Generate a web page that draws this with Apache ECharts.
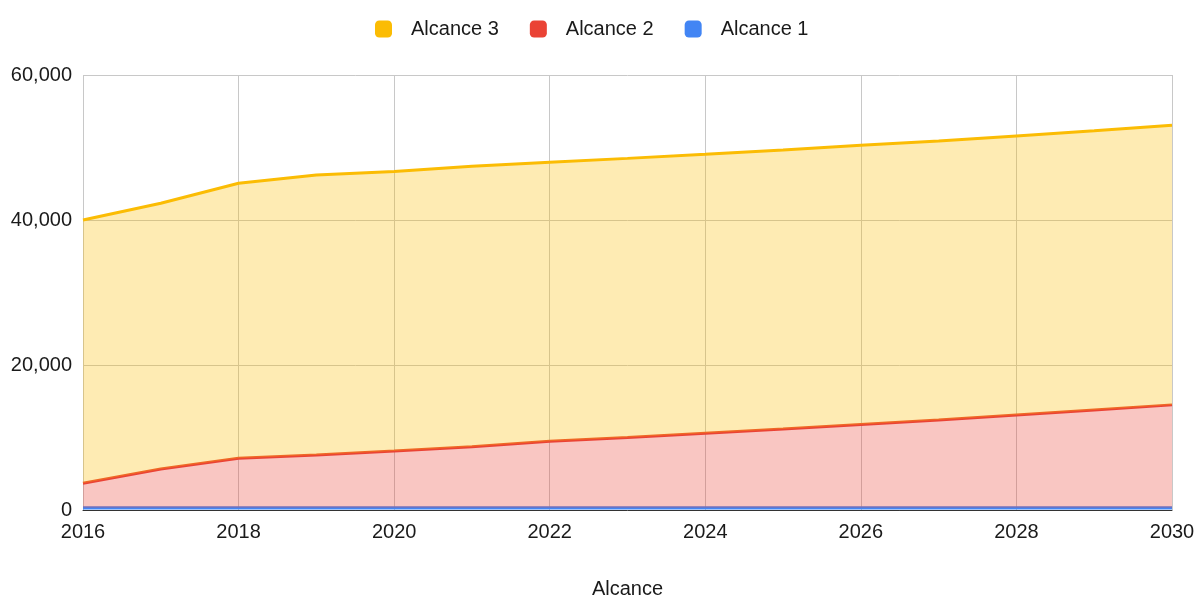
<!DOCTYPE html>
<html>
<head>
<meta charset="utf-8">
<script src="https://cdn.jsdelivr.net/npm/echarts@6/dist/echarts.min.js"></script>
<style>
  html, body { margin: 0; padding: 0; background: #fff; overflow: hidden; }
  #chart { width: 1195px; height: 596px; }
</style>
</head>
<body>
<div id="chart"></div>
<script>
// Years on the horizontal axis
const years = ['2016','2017','2018','2019','2020','2021','2022','2023','2024','2025','2026','2027','2028','2029','2030'];

// Emissions per scope (stacked)
const alcance1 = [300,300,300,300,300,300,300,300,300,300,300,300,300,300,300];
const alcance2 = [3380,5360,6830,7290,7840,8430,9170,9700,10280,10870,11490,12100,12800,13500,14200];
const alcance3 = [36320,36640,37930,38610,38560,38670,38480,38500,38480,38490,38510,38500,38500,38500,38560];

const seriesNames = ['Alcance 1', 'Alcance 2', 'Alcance 3'];
const seriesData = [alcance1, alcance2, alcance3];
const seriesColors = ['#4285f4', '#ea4335', '#fbbc04'];

const font = 'Liberation Sans, Arial, sans-serif';
const textColor = '#1a1a1a';

const chart = echarts.init(document.getElementById('chart'), null, { renderer: 'canvas' });

chart.setOption({
  animation: false,
  backgroundColor: '#ffffff',
  legend: {
    data: ['Alcance 3', 'Alcance 2', 'Alcance 1'],
    top: 14,
    left: 370,
    icon: 'roundRect',
    itemWidth: 17,
    itemHeight: 17,
    itemGap: 31,
    textStyle: { fontFamily: font, fontSize: 20, color: textColor, padding: [0, 0, 0, 14] }
  },
  grid: { left: 83, right: 23, top: 75, bottom: 86, containLabel: false, outerBoundsMode: 'none' },
  xAxis: {
    type: 'category',
    data: years,
    boundaryGap: false,
    name: 'Alcance',
    nameLocation: 'middle',
    nameGap: 69,
    nameTextStyle: { fontFamily: font, fontSize: 20, color: textColor },
    axisLine: { show: true, lineStyle: { color: '#333', width: 1 } },
    axisTick: { show: false },
    axisLabel: { interval: 1, margin: 12, fontFamily: font, fontSize: 20, color: textColor },
    splitLine: { show: true, interval: 1, lineStyle: { color: '#c8c8c8', width: 1 } }
  },
  yAxis: {
    type: 'value',
    min: 0,
    max: 60000,
    interval: 20000,
    axisLine: { show: false },
    axisTick: { show: false },
    axisLabel: {
      margin: 11,
      fontFamily: font, fontSize: 20, color: textColor,
      formatter: v => v.toLocaleString('en-US')
    },
    splitLine: { show: true, lineStyle: { color: '#c8c8c8', width: 1 } }
  },
  series: seriesNames.map((name, i) => ({
    name: name,
    type: 'line',
    stack: 'total',
    data: seriesData[i],
    showSymbol: false,
    symbol: 'none',
    color: seriesColors[i],
    lineStyle: { width: 3, color: seriesColors[i] },
    areaStyle: { color: seriesColors[i], opacity: 0.3 },
    z: 2 + i
  }))
});
</script>
</body>
</html>
